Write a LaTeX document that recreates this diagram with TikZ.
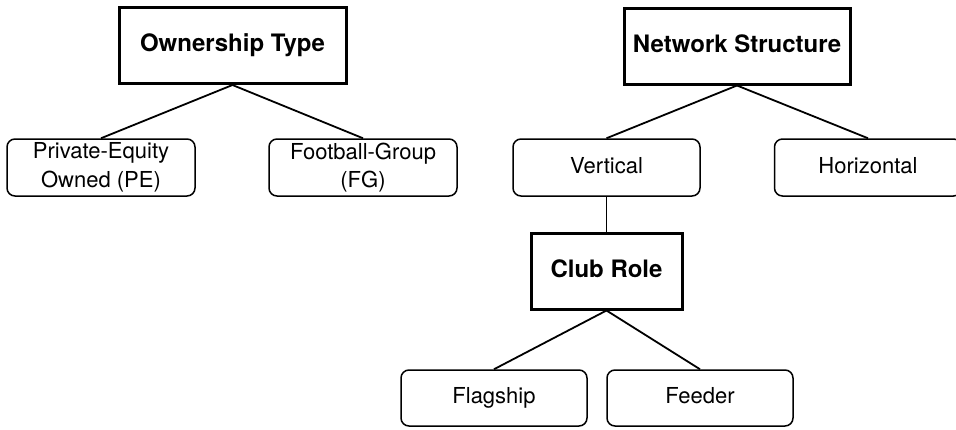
\documentclass[tikz,border=0pt]{standalone}
\usepackage{fontspec}
\setmainfont{TeX Gyre Heros}
\begin{document}
\begin{tikzpicture}[x=1pt,y=-1pt,
  headbox/.style={draw=black,line width=3pt,inner sep=0pt,text height=17pt,text depth=5pt,font=\fontsize{24}{28}\selectfont\bfseries},
  leafbox/.style={draw=black,line width=1.5pt,rounded corners=8pt,inner sep=0pt,align=center,font=\fontsize{22}{28.5}\selectfont},
  oneline/.style={text height=16pt,text depth=5pt},
  link/.style={line width=1.8pt}]
\useasboundingbox (0,0) rectangle (956,429);
\clip (0,0) rectangle (956,429);
\node[headbox,minimum width=227pt,minimum height=76pt] (own) at (232.5,45.5) {Ownership Type};
\node[headbox,minimum width=226pt,minimum height=76pt] (net) at (737,46) {Network Structure};
\node[leafbox,minimum width=188pt,minimum height=57pt] (pe) at (101,167.5) {Private-Equity\\Owned (PE)};
\node[leafbox,minimum width=188pt,minimum height=57pt] (fg) at (363,167.5) {Football-Group\\(FG)};
\node[leafbox,oneline,minimum width=187pt,minimum height=57pt] (vert) at (606.5,167.5) {Vertical};
\node[leafbox,oneline,minimum width=187pt,minimum height=57pt] (hor) at (868,167.5) {Horizontal};
\node[headbox,minimum width=151pt,minimum height=76pt] (club) at (606.5,271) {Club Role};
\node[leafbox,oneline,minimum width=186pt,minimum height=56pt] (flag) at (494,398) {Flagship};
\node[leafbox,oneline,minimum width=186pt,minimum height=56pt] (feed) at (700,398) {Feeder};
\draw[link] (own.south) -- (pe.north);
\draw[link] (own.south) -- (fg.north);
\draw[link] (net.south) -- (vert.north);
\draw[link] (net.south) -- (hor.north);
\draw[link] (vert.south) -- (club.north);
\draw[link] (club.south) -- (flag.north);
\draw[link] (club.south) -- (feed.north);
\end{tikzpicture}
\end{document}
